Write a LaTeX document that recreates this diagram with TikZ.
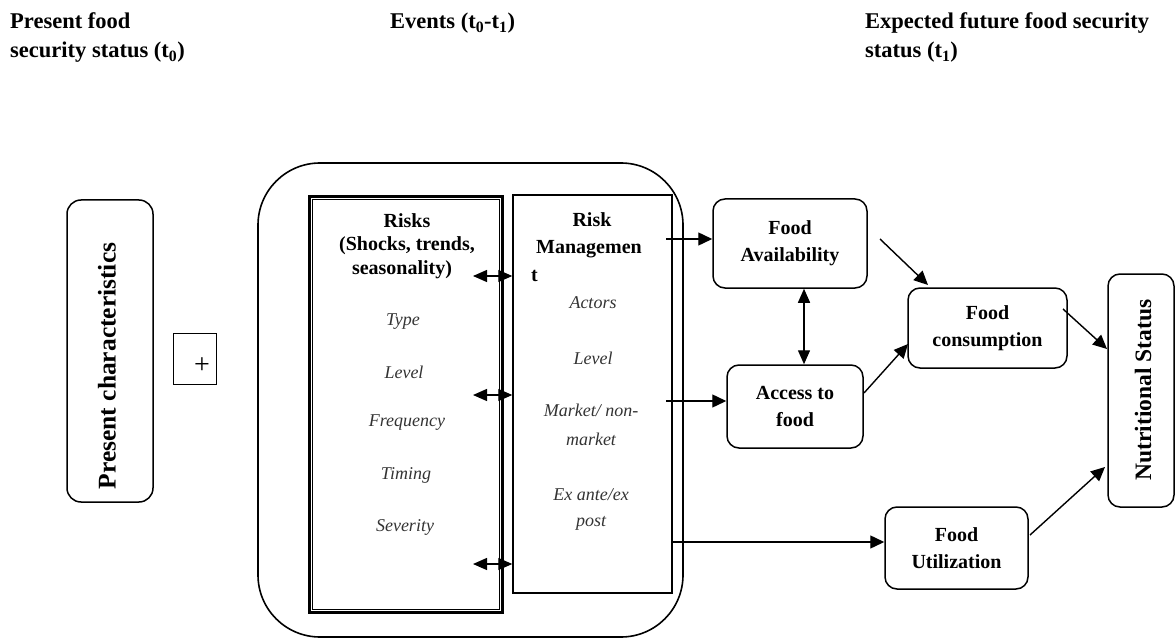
\documentclass[tikz,border=0pt]{standalone}
\usepackage{fontspec}
\setmainfont{Liberation Serif}
\usetikzlibrary{arrows.meta}
\begin{document}
\begin{tikzpicture}[x=1pt,y=-1pt,
  hdr/.style={font=\fontsize{22.5}{30}\selectfont\bfseries, anchor=base west, inner sep=0},
  lbl/.style={font=\fontsize{20}{27}\selectfont\bfseries, align=center, inner sep=0},
  itm/.style={font=\fontsize{18}{24}\selectfont\itshape, text=black!80, align=center, inner sep=0},
  rbox/.style={draw, line width=1.5pt, rounded corners=12pt, font=\fontsize{20}{27}\selectfont\bfseries, align=center, inner sep=0},
  arr/.style={line width=1.4pt, -{Triangle[length=14pt,width=13pt]}},
  darr/.style={line width=1.4pt, {Triangle[length=14pt,width=12pt]}-{Triangle[length=14pt,width=12pt]}},
]
\useasboundingbox (0,0) rectangle (1175,639);

% headers
\node[hdr] (h1a) at (10,29) {Present food};
\node[hdr] (h1b) at (10,58) {security status (t\textsubscript{0})};
\node[hdr] (h2) at (390,29) {Events (t\textsubscript{0}-t\textsubscript{1})};
\node[hdr] (h3a) at (865,29) {Expected future food security};
\node[hdr] (h3b) at (865,58) {status (t\textsubscript{1})};

% present characteristics
\node[draw, line width=1.5pt, rounded corners=14pt, minimum width=86pt, minimum height=302pt] (pc) at (110,351) {};
\node[rotate=90, font=\fontsize{25.5}{30}\selectfont\bfseries, inner sep=0] (pct) at (107,366) {Present characteristics};

% plus
\node[draw, line width=1pt, minimum width=43pt, minimum height=51pt, inner sep=0] (plus) at (194.5,358.5) {};
\node[font=\fontsize{28}{30}\selectfont, inner sep=0] (plust) at (202,366) {+};

% big rounded box
\node[draw, line width=1.6pt, rounded corners=62pt, minimum width=425pt, minimum height=474pt] (big) at (470.5,400) {};

% risks box (thick-thin double border)
\node[draw, line width=3pt, minimum width=193pt, minimum height=415pt, inner sep=0] (risks) at (405.5,404.5) {};
\draw[line width=1pt] ([shift={(4.5pt,-4.5pt)}]risks.north west) rectangle ([shift={(-4.5pt,4.5pt)}]risks.south east);

\node[lbl, anchor=base] (r1) at (407,228) {Risks};
\node[lbl, anchor=base] (r2) at (407,251) {(Shocks, trends,};
\node[lbl, anchor=base] (r3) at (402,274) {seasonality)};
\node[itm] (ri1) at (403,322) {Type};
\node[itm] (ri2) at (404,372) {Level};
\node[itm] (ri3) at (407,423) {Frequency};
\node[itm] (ri4) at (406,475) {Timing};
\node[itm] (ri5) at (405,527) {Severity};

% risk management box
\node[draw, line width=1.5pt, minimum width=159pt, minimum height=398pt, inner sep=0] (rm) at (592.5,394) {};
\node[lbl, anchor=base] (m1) at (592,226) {Risk};
\node[lbl, anchor=base] (m2) at (589,254) {Managemen};
\node[lbl, anchor=base west] (m3) at (531,281) {t};
\node[itm] (mi1) at (593,303) {Actors};
\node[itm] (mi2) at (593,358) {Level};
\node[itm] (mi3) at (591,410) {Market/ non-};
\node[itm] (mi4) at (591,439) {market};
\node[itm] (mi5) at (591,495) {Ex ante/ex};
\node[itm] (mi6) at (591,523) {post};

% right-hand boxes
\node[rbox, minimum width=154pt, minimum height=89pt] (fa) at (790,243.5) {Food\\Availability};
\node[rbox, minimum width=136pt, minimum height=83pt] (acc) at (795,406.5) {Access to\\food};
\node[rbox, minimum width=159pt, minimum height=80pt] (cons) at (987.5,328) {Food\\consumption};
\node[rbox, minimum width=143pt, minimum height=82pt] (util) at (956.5,548) {Food\\Utilization};
\node[draw, line width=1.5pt, rounded corners=12pt, minimum width=66pt, minimum height=233pt] (nut) at (1141,390.5) {};
\node[rotate=90, font=\fontsize{23.5}{28}\selectfont\bfseries, inner sep=0] (nutt) at (1143,390) {Nutritional Status};

% double arrows risks <-> risk management
\coordinate (d1) at (473,276);
\coordinate (d2) at (473,395);
\coordinate (d3) at (473,564);
\draw[darr] (d1) -- (d1 -| rm.west);
\draw[darr] (d2) -- (d2 -| rm.west);
\draw[darr] (d3) -- (d3 -| rm.west);

% arrows from risk management
\coordinate (s1) at (666,239);
\coordinate (s2) at (666,401);
\coordinate (s3) at (672,542);
\draw[arr] (s1) -- (s1 -| fa.west);
\draw[arr] (s2) -- (s2 -| acc.west);
\draw[arr] (s3) -- (s3 -| util.west);

% availability <-> access
\coordinate (v) at (804,300);
\draw[darr] (v |- fa.south) -- (v |- acc.north);

% to consumption
\coordinate (c1s) at (880,239);
\coordinate (c1e) at (928,285);
\draw[arr] (c1s) -- (c1e);
\coordinate (c2s) at (864,393);
\coordinate (c2e) at (908,344);
\draw[arr] (c2s) -- (c2e);

% to nutritional status
\coordinate (n1s) at (1063,309);
\coordinate (n1e) at (1107,349);
\draw[arr] (n1s) -- (n1e);
\coordinate (n2s) at (1030,535);
\coordinate (n2e) at (1105,467);
\draw[arr] (n2s) -- (n2e);
\end{tikzpicture}
\end{document}
